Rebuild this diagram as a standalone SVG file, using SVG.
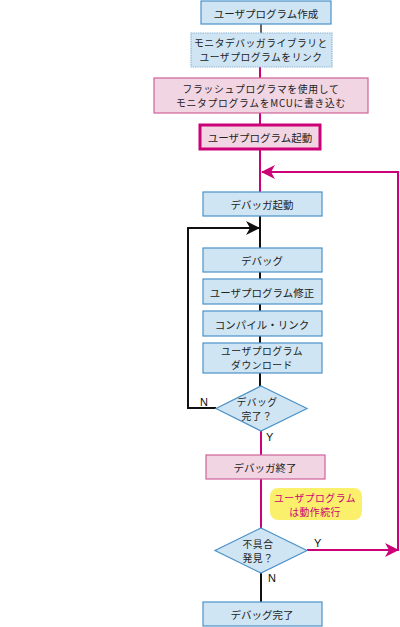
<svg xmlns="http://www.w3.org/2000/svg" width="400" height="627" viewBox="0 0 400 627">
<defs>
<style>
.b{fill:#cfe5f3;stroke:#4b92c9;stroke-width:1.2}
.p{fill:#f1d5e2;stroke:#d2629c;stroke-width:1.2}
.t{font-family:"Noto Sans CJK JP","Noto Sans",sans-serif;font-size:10.5px;fill:#222;text-anchor:middle;dominant-baseline:central}
.s{font-size:9.8px;letter-spacing:0.5px}
.l{font-family:"Liberation Sans",Arial,sans-serif;font-size:11px;fill:#111;dominant-baseline:central}
.k{fill:none;stroke:#111;stroke-width:2}
.m{fill:none;stroke:#cc0077;stroke-width:2}
</style>
<marker id="am" viewBox="0 0 14 14" refX="13" refY="7" markerWidth="14" markerHeight="14" orient="auto" markerUnits="userSpaceOnUse"><path d="M0,0 L14,7 L0,14 L4,7 Z" fill="#cc0077"/></marker>
</defs>
<g id="connectors">
<line x1="261" y1="24" x2="261" y2="33" stroke="#333" stroke-width="1.5"/>
<line class="m" x1="260" y1="67" x2="260" y2="78"/>
<line class="m" x1="260" y1="113" x2="260" y2="124"/>
<line class="m" x1="260" y1="150" x2="260" y2="192"/>
<polyline class="m" points="307,550 398,550 398,172 262,172" marker-end="url(#am)"/>
<path class="m" d="M307,550 L398,550" marker-end="url(#am)"/>
<line class="k" x1="260" y1="216" x2="260" y2="386"/>
<polyline class="k" points="216,408 188,408 188,228 260,228"/>
<path d="M260,228 L246,221 L250,228 L246,235 Z" fill="#111"/>
<line class="m" x1="261" y1="431" x2="261" y2="455"/>
<line class="m" x1="261" y1="479" x2="261" y2="528"/>
<line class="k" x1="261" y1="573" x2="261" y2="602"/>
</g>
<g id="n1"><rect class="b" x="201" y="1" width="130" height="23"/><text class="t" x="266" y="13">ユーザプログラム作成</text></g>
<g id="n2"><rect class="b" x="191" y="33" width="141" height="34" stroke-dasharray="1.5,0.8" style="stroke:#8fb6d6"/><text class="t s" y="43"><tspan x="261">モニタデバッガライブラリと</tspan><tspan x="261" dy="14.3">ユーザプログラムをリンク</tspan></text></g>
<g id="n3"><rect class="p" x="154" y="78" width="214" height="35"/><text class="t s" y="88.5" style="letter-spacing:0.7px"><tspan x="261">フラッシュプログラマを使用して</tspan><tspan x="261" dy="14.3">モニタプログラムをMCUに書き込む</tspan></text></g>
<g id="n4"><rect x="200" y="125" width="120" height="24" fill="#f1d5e2" stroke="#cc0077" stroke-width="3"/><text class="t" x="260" y="137">ユーザプログラム起動</text></g>
<g id="n5"><rect class="b" x="203" y="192" width="119" height="24"/><text class="t" x="262" y="204">デバッガ起動</text></g>
<g id="n6"><rect class="b" x="203" y="248" width="119" height="24"/><text class="t" x="262" y="260">デバッグ</text></g>
<g id="n7"><rect class="b" x="203" y="279" width="119" height="25"/><text class="t" x="262" y="292">ユーザプログラム修正</text></g>
<g id="n8"><rect class="b" x="203" y="311" width="119" height="25"/><text class="t" x="262" y="324">コンパイル・リンク</text></g>
<g id="n9"><rect class="b" x="203" y="343" width="119" height="30"/><text class="t s" y="351"><tspan x="262">ユーザプログラム</tspan><tspan x="262" dy="14.3">ダウンロード</tspan></text></g>
<g id="d1"><polygon class="b" points="261,386 307,408.5 261,431 216,408.5"/><text class="t s" y="401.5"><tspan x="257">デバッグ</tspan><tspan x="257" dy="14.3">完了？</tspan></text><text class="l" x="200" y="402">N</text><text class="l" x="266" y="437">Y</text></g>
<g id="n10"><rect class="p" x="206" y="455" width="119" height="24"/><text class="t" x="265" y="467">デバッガ終了</text></g>
<g id="note"><rect x="270" y="488" width="92" height="32" rx="8" fill="#fbf06c"/><text class="t s" y="498" style="fill:#cc0077"><tspan x="315">ユーザプログラム</tspan><tspan x="315" dy="14.3">は動作続行</tspan></text></g>
<g id="d2"><polygon class="b" points="261,528 307,550.5 261,573 215,550.5"/><text class="t s" y="544"><tspan x="258">不具合</tspan><tspan x="258" dy="14.3">発見？</tspan></text><text class="l" x="314" y="543">Y</text><text class="l" x="268" y="578">N</text></g>
<g id="n11"><rect class="b" x="203" y="602" width="119" height="24"/><text class="t" x="262" y="614">デバッグ完了</text></g>
</svg>
